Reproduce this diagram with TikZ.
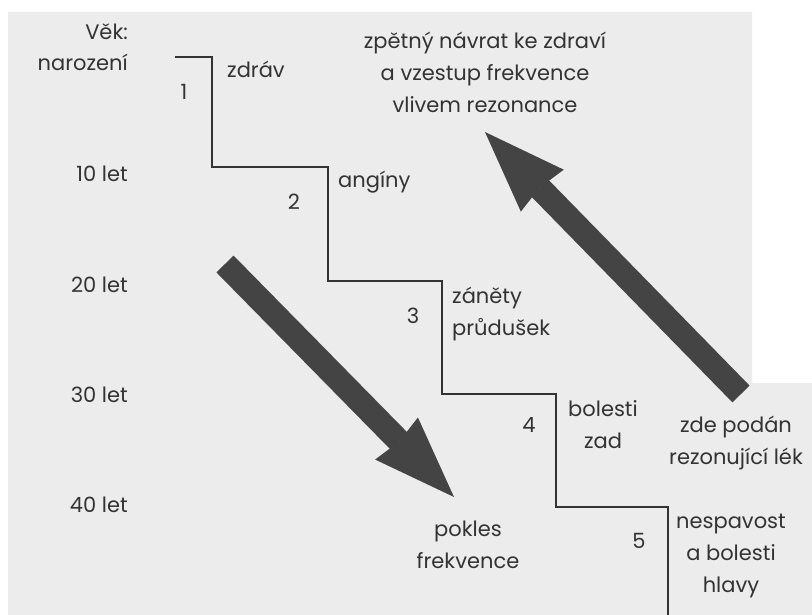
\documentclass[tikz,border=0pt]{standalone}
\usepackage{fontspec}
\setmainfont{Poppins}
\usetikzlibrary{arrows.meta}
\definecolor{paper}{HTML}{ECECEC}
\definecolor{ink}{HTML}{333333}
\definecolor{arrowgray}{HTML}{444444}
\tikzset{
  lbl/.style={text=ink, font=\fontsize{21}{32}\selectfont, inner sep=0pt, align=center},
  bigarrow/.style={draw=arrowgray, line width=24pt,
    -{Stealth[length=82pt,width=60pt,inset=4pt,line width'=0pt]}},
}
\begin{document}
\begin{tikzpicture}[x=1pt,y=-1pt]
\useasboundingbox (0,0) rectangle (812,615);
\fill[white] (0,0) rectangle (812,615);
\fill[paper] (8,12)--(752,12)--(752,383)--(812,383)--(812,615)--(8,615)--cycle;
% the stair
\draw[ink, line width=2pt] (175,57)--(212,57)--(212,167)--(328,167)--(328,281)--(442,281)--(442,394)--(556,394)--(556,507)--(668,507)--(668,615);
% ages
\node[lbl, anchor=base east] (vek) at (128,40) {Věk:};
\node[lbl, anchor=base east] (age0) at (128,71) {narození};
\node[lbl, anchor=base east] (age10) at (128,182) {10 let};
\node[lbl, anchor=base east] (age20) at (128,292) {20 let};
\node[lbl, anchor=base east] (age30) at (128,402) {30 let};
\node[lbl, anchor=base east] (age40) at (128,512) {40 let};
% step numbers
\node[lbl, anchor=base] (n1) at (184,100) {1};
\node[lbl, anchor=base] (n2) at (294,210) {2};
\node[lbl, anchor=base] (n3) at (413,323) {3};
\node[lbl, anchor=base] (n4) at (529,432) {4};
\node[lbl, anchor=base] (n5) at (639,548) {5};
% illnesses (base = last line)
\node[lbl, anchor=base west] (zdrav) at (227,78) {zdráv};
\node[lbl, anchor=base west] (anginy) at (338,188) {angíny};
\node[lbl, anchor=base west, align=left] (zanety) at (452,335) {záněty\\průdušek};
\node[lbl, anchor=base] (zada) at (603,448) {bolesti\\zad};
\node[lbl, anchor=base] (hlava) at (731,592) {nespavost\\a bolesti\\hlavy};
% arrows
\node[lbl, anchor=base] (navrat) at (485,113) {zpětný návrat ke zdraví\\a vzestup frekvence\\vlivem rezonance};
\node[lbl, anchor=base] (lek) at (736,464) {zde podán\\rezonující lék};
\node[lbl, anchor=base] (pokles) at (468,568) {pokles\\frekvence};
\coordinate (fallstart) at (225,264);
\coordinate (fallend) at (454,497);
\coordinate (risestart) at (741,394);
\coordinate (riseend) at (485,132);
\draw[bigarrow] (fallstart)--(fallend);
\draw[bigarrow] (risestart)--(riseend);
\end{tikzpicture}
\end{document}
